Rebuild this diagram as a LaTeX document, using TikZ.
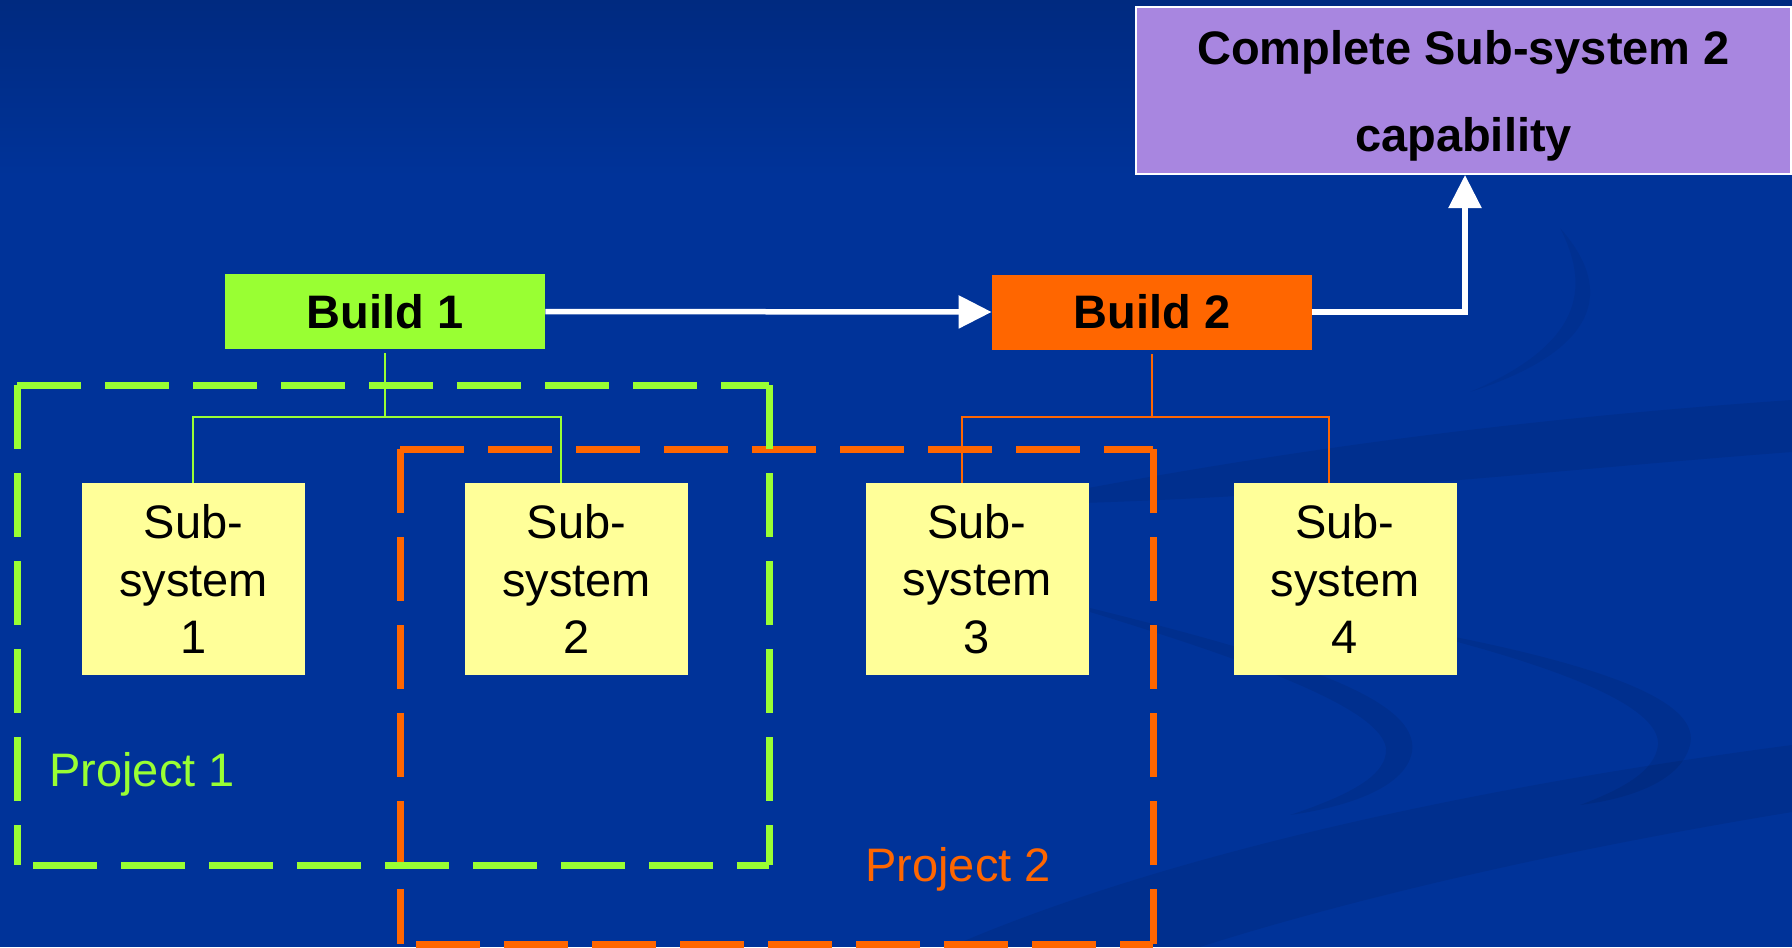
\documentclass[tikz,border=0pt]{standalone}
\usepackage{fontspec}
\setmainfont{Liberation Sans}
\usetikzlibrary{arrows.meta}

\definecolor{slide}{HTML}{003399}
\definecolor{slidetop}{HTML}{002A80}
\definecolor{buildgreen}{HTML}{99FF33}
\definecolor{buildorange}{HTML}{FF6600}
\definecolor{subyellow}{HTML}{FFFF99}
\definecolor{goallilac}{HTML}{A886E0}

\tikzset{
  subsys/.style={rectangle,fill=subyellow,minimum width=111.5pt,minimum height=96pt,
    inner sep=0pt,align=center,font=\fontsize{23.5}{28.75}\selectfont},
  build/.style={rectangle,minimum width=160pt,minimum height=37.5pt,inner sep=0pt,
    font=\fontsize{23.5}{28}\selectfont\bfseries},
  goalbox/.style={rectangle,draw=white,line width=1pt,fill=goallilac,minimum width=327.5pt,
    minimum height=83.5pt,inner sep=0pt,align=center,font=\fontsize{23.5}{43.5}\selectfont\bfseries},
  projlabel/.style={anchor=base west,inner sep=0pt,font=\fontsize{23.5}{28}\selectfont},
  flow/.style={draw=white,line width=2.75pt,-{Triangle[length=16.5pt,width=16pt]}},
  twig/.style={line width=1.3pt},
  projline/.style={line width=3.5pt,dash pattern=on 32pt off 12pt},
  swoosh/.style={fill=black,opacity=0.07}
}

\begin{document}
\begin{tikzpicture}[x=0.5pt,y=-0.5pt]
  \useasboundingbox (0,0) rectangle (1792,947);
  % slide background
  \fill[top color=slidetop,bottom color=slide] (0,0) rectangle (1792,176);
  \fill[slide] (0,175) rectangle (1792,947);
  \fill[swoosh,opacity=0.05] (1560,228) .. controls (1615,290) and (1600,350) .. (1470,392) .. controls (1580,345) and (1592,290) .. (1560,228);
  \fill[swoosh] (1000,505) .. controls (1250,455) and (1500,420) .. (1792,400) -- (1792,452) .. controls (1550,470) and (1300,500) .. (1000,505);
  \fill[swoosh] (1090,608) .. controls (1300,660) and (1420,700) .. (1412,752) .. controls (1405,790) and (1340,808) .. (1290,815) .. controls (1350,795) and (1388,775) .. (1386,748) .. controls (1380,712) and (1280,670) .. (1090,612);
  \fill[swoosh] (1450,636) .. controls (1620,670) and (1700,705) .. (1690,745) .. controls (1680,785) and (1620,800) .. (1580,805) .. controls (1620,790) and (1655,772) .. (1658,745) .. controls (1660,715) and (1600,680) .. (1450,640);
  \fill[swoosh] (950,947) .. controls (1150,860) and (1450,790) .. (1792,745) -- (1792,812) .. controls (1500,860) and (1300,915) .. (1200,947) -- cycle;

  % project frames
  \draw[projline,buildorange] (400,449) -- (1153,449) (400,449) -- (400,944) (1153,449) -- (1153,944);
  \draw[projline,buildorange,dash phase=36pt] (400,944) -- (1153,944);
  \draw[projline,buildgreen] (17,385) -- (769,385) (17,385) -- (17,865) (769,385) -- (769,865);
  \draw[projline,buildgreen,dash phase=36pt] (17,865) -- (769,865);

  \node (goal) at (1463.5,90.5) [goalbox] {Complete Sub-system 2\\\raisebox{0pt}[\height][0pt]{capability}};
  \node (b1) at (385,311.5) [build,fill=buildgreen] {Build 1};
  \node (b2) at (1152,312) [build,fill=buildorange] {Build 2};
  \node (s1) at (193.5,579) [subsys] {Sub-\\system\\1};
  \node (s2) at (576.5,579) [subsys] {Sub-\\system\\2};
  \node (s3) at (977,579) [subsys] {Sub-\\system\\3};
  \node (s4) at (1345,579) [subsys] {Sub-\\system\\4};
  \node (p1) at (49,786) [projlabel,text=buildgreen] {Project 1};
  \node (p2) at (865,881) [projlabel,text=buildorange] {Project 2};

  % build trees
  \coordinate (j1) at (385,417);
  \coordinate (j2) at (1152,417);
  \draw[twig,buildgreen] ([yshift=-2pt]b1.south) -- (j1);
  \draw[twig,buildgreen] ([xshift=-0.25pt]s1.north) |- (j1) -| ([xshift=-7.75pt]s2.north);
  \draw[twig,buildorange] ([yshift=-2pt]b2.south) -- (j2);
  \draw[twig,buildorange] ([xshift=-7.5pt]s3.north) |- (j2) -| ([xshift=-8pt]s4.north);

  \draw[flow] (b1.east) -- (b2.west);
  \draw[flow] (b2.east) -| ([xshift=0.75pt]goal.south);
\end{tikzpicture}
\end{document}
